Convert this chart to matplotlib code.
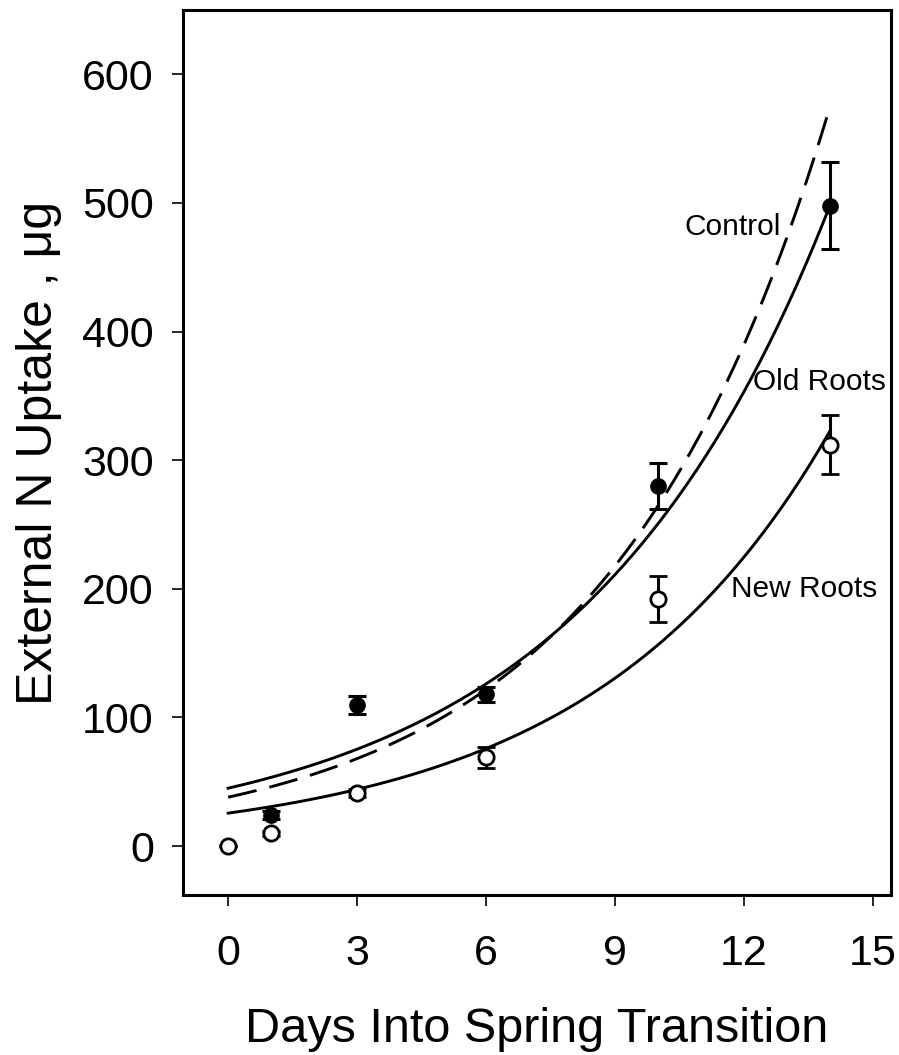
import numpy as np
import matplotlib
matplotlib.use("Agg")
import matplotlib.pyplot as plt

plt.rcParams["font.family"] = ["Liberation Sans", "DejaVu Sans"]

# Control (filled circles)
ctrl_days = [1, 3, 6, 10, 14]
ctrl_vals = [24, 110, 118, 280, 498]
ctrl_err = [3, 7, 6, 18, 34]

# New roots (open circles)
new_days = [0, 1, 3, 6, 10, 14]
new_vals = [0, 10, 41, 69, 192, 312]
new_err = [0, 2, 3, 8, 18, 23]

# exponential fits y = a * exp(b * x), drawn from day 0 to 14
fit_names = ["Old Roots", "Control", "New Roots"]
fit_a = [45.0, 38.0, 25.6]
fit_b = [0.1717, 0.194, 0.181]
fit_styles = ["-", "--", "-"]

fig = plt.figure(figsize=(8.99, 10.55), dpi=100)
ax = fig.add_axes([0.2036, 0.1517, 0.7874, 0.8388])

xs = np.linspace(0, 14, 200)
for a, b, ls in zip(fit_a, fit_b, fit_styles):
    line, = ax.plot(xs, a * np.exp(b * xs), color="black", lw=2.1, ls=ls)
    if ls == "--":
        line.set_dashes((10, 4.5))

ax.errorbar(ctrl_days, ctrl_vals, yerr=ctrl_err, fmt="o", color="black",
            mfc="black", mec="black", ms=11, elinewidth=2.2, capsize=6.8,
            capthick=2.2, zorder=5)
ax.errorbar(new_days, new_vals, yerr=new_err, fmt="o", color="black",
            mfc="white", mec="black", mew=2.0, ms=11, elinewidth=2.2,
            capsize=6.8, capthick=2.2, zorder=5)

ax.text(12.85, 481, "Control", fontsize=21.5, ha="right", va="center")
ax.text(12.2, 361, "Old Roots", fontsize=21.5, ha="left", va="center")
ax.text(11.7, 200, "New Roots", fontsize=21.5, ha="left", va="center")

ax.set_xlim(-1.05, 15.42)
ax.set_ylim(-38, 650)
ax.set_xticks([0, 3, 6, 9, 12, 15])
ax.set_yticks([0, 100, 200, 300, 400, 500, 600])

for sp in ax.spines.values():
    sp.set_linewidth(2.2)
ax.tick_params(direction="out", length=8, width=1.2, labelsize=31)
ax.tick_params(axis="x", pad=20)
ax.tick_params(axis="y", pad=13)

ax.set_xlabel("Days Into Spring Transition", fontsize=35, va="baseline")
ax.xaxis.set_label_coords(0.5, -0.1661)
ax.set_ylabel("External N Uptake , μg", fontsize=36, labelpad=14.5)

fig.savefig("out.png", dpi=100)
